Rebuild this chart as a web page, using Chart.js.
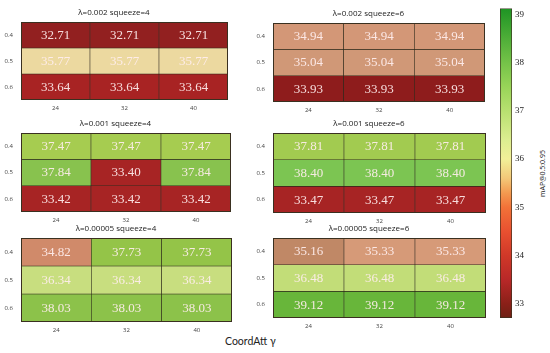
<!DOCTYPE html>
<html>
<head>
<meta charset="utf-8">
<script src="https://cdn.jsdelivr.net/npm/chart.js@4.4.1/dist/chart.umd.min.js"></script>
<style>
  html, body { margin: 0; padding: 0; background: #fff; }
  #wrap { position: relative; width: 550px; height: 353px; overflow: hidden; }
  #wrap canvas { position: absolute; }
  .lbl { position: absolute; font-family: Lato, 'Open Sans', sans-serif; color: #222; white-space: nowrap; }
</style>
</head>
<body>
<div id="wrap">
  <div class="lbl" id="xTitle" style="left:225px; top:335px; font-size:10.5px;">CoordAtt γ</div>
  <div class="lbl" id="cbTitle" style="left:519px; top:169px; font-size:7px; font-family:'Open Sans',sans-serif; transform:rotate(-90deg); transform-origin:center;">mAP@0.5:0.95</div>
</div>
<script>
/* ---- data ---- */
const gammaLabels = ['24', '32', '40'];      // CoordAtt γ (columns)
const rowLabels = ['0.4', '0.5', '0.6'];     // rows
const panelTitles = [
  'λ=0.002 squeeze=4', 'λ=0.002 squeeze=6',
  'λ=0.001 squeeze=4', 'λ=0.001 squeeze=6',
  'λ=0.00005 squeeze=4', 'λ=0.00005 squeeze=6'
];
const lam002Sq4 = [[32.71, 32.71, 32.71], [35.77, 35.77, 35.77], [33.64, 33.64, 33.64]];
const lam002Sq6 = [[34.94, 34.94, 34.94], [35.04, 35.04, 35.04], [33.93, 33.93, 33.93]];
const lam001Sq4 = [[37.47, 37.47, 37.47], [37.84, 33.40, 37.84], [33.42, 33.42, 33.42]];
const lam001Sq6 = [[37.81, 37.81, 37.81], [38.40, 38.40, 38.40], [33.47, 33.47, 33.47]];
const lam00005Sq4 = [[34.82, 37.73, 37.73], [36.34, 36.34, 36.34], [38.03, 38.03, 38.03]];
const lam00005Sq6 = [[35.16, 35.33, 35.33], [36.48, 36.48, 36.48], [39.12, 39.12, 39.12]];
const cbMin = 32.71, cbMax = 39.12;
const cbTicks = [33, 34, 35, 36, 37, 38, 39];

/* ---- colours ---- */
// muted map used for the cells
const cellStops = [
  [32.71, '#922020'], [33.40, '#a72424'], [33.70, '#a82323'], [33.93, '#8e1c1c'],
  [34.82, '#d08a6a'], [35.00, '#d59d7d'], [35.16, '#c08866'], [35.33, '#d69a78'],
  [35.77, '#ecd9a0'], [36.40, '#c4de7b'], [37.47, '#a6cc50'], [37.73, '#94c448'],
  [37.81, '#a2cb50'], [37.84, '#88c24e'], [38.03, '#8cc24a'], [38.40, '#7cc552'],
  [39.12, '#68b63a']
];
// colour bar map
const barStops = [
  [32.71, '#6e2014'], [33.0, '#8a2018'], [33.5, '#b82828'], [34.0, '#d03828'],
  [34.5, '#e85030'], [35.0, '#f27238'], [35.3, '#f49a50'], [35.6, '#f4c878'],
  [36.0, '#f2f098'], [36.4, '#dcee90'], [37.0, '#b8e070'], [37.5, '#98d458'],
  [38.0, '#74c248'], [38.5, '#4eae38'], [39.12, '#1e9424']
];
const SERIF = '"Liberation Serif", "Times New Roman", Times, "DejaVu Serif", serif';

function hexRgb(h) {
  return [parseInt(h.slice(1, 3), 16), parseInt(h.slice(3, 5), 16), parseInt(h.slice(5, 7), 16)];
}
function colorAt(stops, v) {
  if (v <= stops[0][0]) return stops[0][1];
  for (let i = 1; i < stops.length; i++) {
    if (v <= stops[i][0]) {
      const t = (v - stops[i - 1][0]) / (stops[i][0] - stops[i - 1][0]);
      const a = hexRgb(stops[i - 1][1]), b = hexRgb(stops[i][1]);
      const c = a.map((x, k) => Math.round(x + (b[k] - x) * t));
      return `rgb(${c[0]},${c[1]},${c[2]})`;
    }
  }
  return stops[stops.length - 1][1];
}

/* ---- plugins ---- */
const cellText = {
  id: 'cellText',
  afterDatasetsDraw(chart) {
    const ctx = chart.ctx;
    ctx.save();
    ctx.font = '13px ' + SERIF;
    ctx.textAlign = 'center';
    ctx.textBaseline = 'middle';
    ctx.fillStyle = 'rgba(255,238,238,0.92)';
    chart.data.datasets.forEach((ds, i) => {
      chart.getDatasetMeta(i).data.forEach((bar, j) => {
        ctx.fillText(ds.cellValues[j].toFixed(2), bar.x, (bar.y + bar.base) / 2 + 0.5);
      });
    });
    // panel outline
    const a = chart.chartArea;
    ctx.strokeStyle = '#3a3020';
    ctx.lineWidth = 1;
    ctx.strokeRect(a.left + 0.5, a.top + 0.5, a.right - a.left - 1, a.bottom - a.top - 1);
    ctx.restore();
  }
};

/* ---- layout of the six panels (plot-area pixels) ---- */
const panelBoxes = [
  { left: 21, top: 22, w: 207, h: 78 },
  { left: 273, top: 23, w: 212, h: 79 },
  { left: 21, top: 133, w: 210, h: 79 },
  { left: 273, top: 133, w: 213, h: 80 },
  { left: 21, top: 238, w: 211, h: 84 },
  { left: 273, top: 238, w: 213, h: 80 }
];
const panelData = [lam002Sq4, lam002Sq6, lam001Sq4, lam001Sq6, lam00005Sq4, lam00005Sq6];
const Y_AXIS_W = 21, TITLE_H = 16, X_AXIS_H = 16;
const wrap = document.getElementById('wrap');

function drawPanels() {
  panelData.forEach((grid, p) => {
    const box = panelBoxes[p];
    const cv = document.createElement('canvas');
    cv.width = Y_AXIS_W + box.w;
    cv.height = TITLE_H + box.h + X_AXIS_H;
    cv.style.left = (box.left - Y_AXIS_W) + 'px';
    cv.style.top = (box.top - TITLE_H) + 'px';
    wrap.appendChild(cv);

    new Chart(cv, {
      type: 'bar',
      data: {
        labels: gammaLabels,
        datasets: rowLabels.map((r, i) => ({
          label: r,
          data: gammaLabels.map(() => 1),
          cellValues: grid[i],
          backgroundColor: grid[i].map(v => colorAt(cellStops, v)),
          borderColor: '#2e2a1c',
          borderWidth: 0.6,
          borderSkipped: false,
          barPercentage: 1,
          categoryPercentage: 1
        }))
      },
      options: {
        responsive: false,
        animation: false,
        devicePixelRatio: 1,
        layout: { padding: 0 },
        plugins: {
          legend: { display: false },
          tooltip: { enabled: false },
          title: {
            display: true,
            text: panelTitles[p],
            color: '#222',
            font: { size: 8, family: "'Open Sans', sans-serif", weight: 'normal', lineHeight: 1.25 },
            padding: { top: 2, bottom: 4 }
          }
        },
        scales: {
          x: {
            stacked: true,
            grid: { display: false, drawTicks: false },
            border: { display: false },
            ticks: { color: '#444', padding: 5, font: { size: 6, family: "'Open Sans', sans-serif" } },
            afterFit(s) { s.height = X_AXIS_H; }
          },
          y: {
            stacked: true,
            reverse: true,
            min: 0,
            max: 3,
            grid: { display: false, drawTicks: false },
            border: { display: false },
            afterBuildTicks(s) { s.ticks = rowLabels.map((_, i) => ({ value: i + 0.5 })); },
            ticks: {
              color: '#444', padding: 8,
              font: { size: 6, family: "'Open Sans', sans-serif" },
              callback: (v, i) => rowLabels[i]
            },
            afterFit(s) { s.width = Y_AXIS_W; }
          }
        }
      },
      plugins: [cellText]
    });
  });
}

/* ---- colour bar ---- */
function drawColorBar() {
  const cb = document.createElement('canvas');
  cb.width = 50;
  cb.height = 330;
  cb.style.left = '500px';
  cb.style.top = '0px';
  wrap.appendChild(cb);

  new Chart(cb, {
    type: 'bar',
    data: {
      labels: ['mAP'],
      datasets: [{
        data: [[cbMin, cbMax]],
        backgroundColor(c) {
          const area = c.chart.chartArea;
          if (!area) return '#ccc';
          const ys = c.chart.scales.y;
          const g = c.chart.ctx.createLinearGradient(0, area.bottom, 0, area.top);
          barStops.forEach(([v, col]) => {
            const t = (ys.getPixelForValue(v) - area.bottom) / (area.top - area.bottom);
            g.addColorStop(Math.min(1, Math.max(0, t)), col);
          });
          return g;
        },
        borderColor: '#3a3020',
        borderWidth: 1,
        borderSkipped: false,
        barPercentage: 1,
        categoryPercentage: 1
      }]
    },
    options: {
      responsive: false,
      animation: false,
      devicePixelRatio: 1,
      layout: { padding: { top: 4, bottom: 12, left: 0, right: 0 } },
      plugins: { legend: { display: false }, tooltip: { enabled: false } },
      scales: {
        x: { display: false },
        y: {
          position: 'right',
          min: cbMin,
          max: cbMax,
          grid: { display: false, drawTicks: false },
          border: { display: false },
          afterBuildTicks(s) { s.ticks = cbTicks.map(v => ({ value: v })); },
          ticks: {
            color: '#222', padding: 3,
            font: { size: 9, family: SERIF }
          },
          afterFit(s) { s.width = 38; }
        }
      }
    }
  });
}

Promise.all([
  document.fonts.load('13px "Liberation Serif"'),
  document.fonts.load('8px "Open Sans"'),
  document.fonts.load('10px Lato')
]).catch(() => {}).then(() => {
  drawPanels();
  drawColorBar();
});
</script>
</body>
</html>
